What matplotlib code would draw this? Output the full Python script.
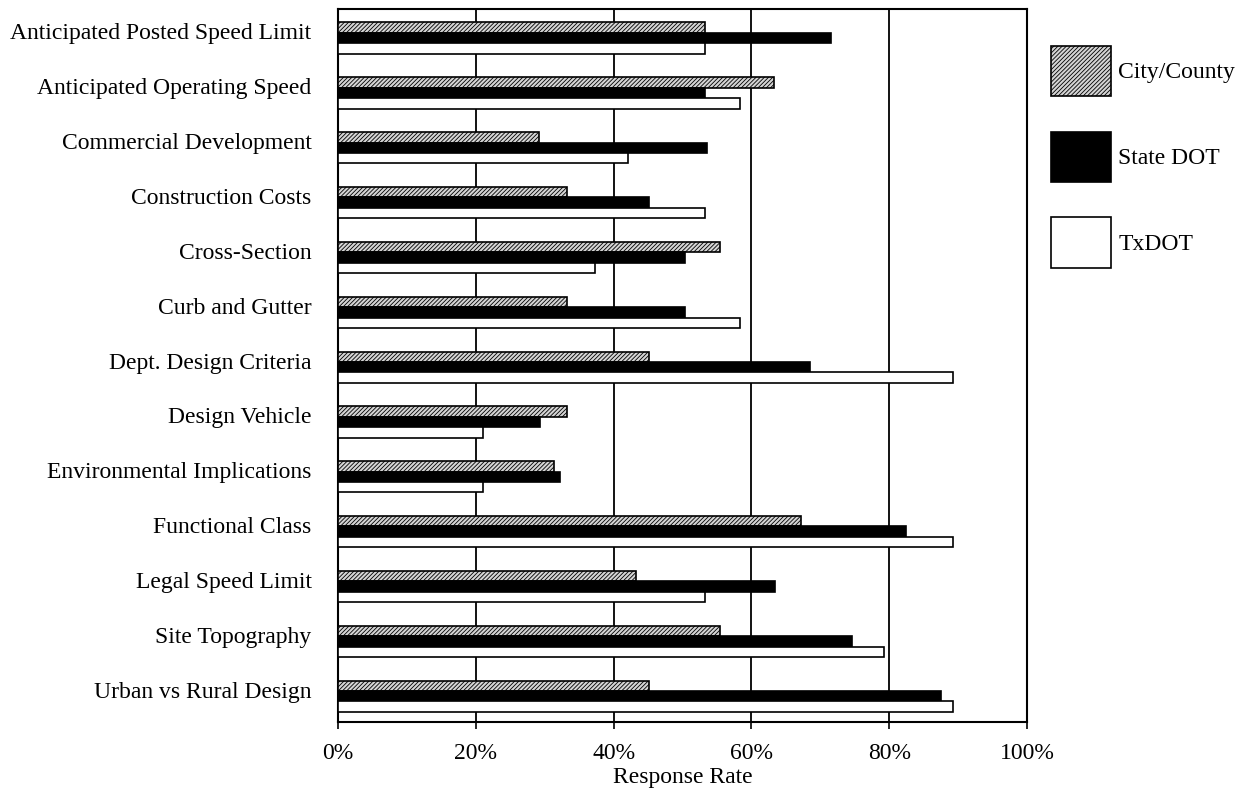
import numpy as np
import matplotlib
matplotlib.use("Agg")
import matplotlib.pyplot as plt
import matplotlib.transforms as mtransforms
from matplotlib.ticker import PercentFormatter

# data (response rate, %)
categories = ["Anticipated Posted Speed Limit", "Anticipated Operating Speed",
              "Commercial Development", "Construction Costs", "Cross-Section",
              "Curb and Gutter", "Dept. Design Criteria", "Design Vehicle",
              "Environmental Implications", "Functional Class",
              "Legal Speed Limit", "Site Topography", "Urban vs Rural Design"]
city_county = [53.3, 63.3, 29.2, 33.3, 55.5, 33.3, 45.2, 33.3, 31.3, 67.2, 43.3, 55.4, 45.2]
state_dot = [71.5, 53.3, 53.5, 45.2, 50.3, 50.3, 68.5, 29.3, 32.2, 82.4, 63.4, 74.6, 87.5]
txdot = [53.3, 58.3, 42.1, 53.3, 37.3, 58.3, 89.2, 21.1, 21.1, 89.3, 53.3, 79.3, 89.3]
series_names = ["City/County", "State DOT", "TxDOT"]

plt.rcParams['font.family'] = ['Liberation Serif', 'DejaVu Serif']
plt.rcParams['hatch.linewidth'] = 0.6

fig = plt.figure(figsize=(12.42, 7.94), dpi=100)
ax = fig.add_axes([338/1242, 1 - 722/794, (1027 - 338)/1242, (722 - 9)/794])

y = np.arange(len(categories))
h = 0.19
off = 0.03
ax.barh(y - h + off, city_county, height=h, color='#d4d4d4', edgecolor='black',
        hatch='////////', linewidth=1.2, label=series_names[0], zorder=3)
ax.barh(y + off, state_dot, height=h, color='black', edgecolor='black',
        linewidth=1.2, label=series_names[1], zorder=3)
ax.barh(y + h + off, txdot, height=h, color='white', edgecolor='black',
        linewidth=1.2, label=series_names[2], zorder=3)

ax.set_ylim(len(categories) - 0.5, -0.5)
ax.set_xlim(0, 100)
ax.set_yticks(y)
ax.set_yticklabels(categories, fontsize=17)
ax.tick_params(axis='y', length=0, pad=19)
shift = mtransforms.ScaledTranslation(0, 5/100, fig.dpi_scale_trans)
for lbl in ax.get_yticklabels():
    lbl.set_transform(lbl.get_transform() + shift)

ax.set_xticks(np.arange(0, 101, 20))
ax.xaxis.set_major_formatter(PercentFormatter(decimals=0))
ax.tick_params(axis='x', labelsize=17, length=5, width=1.2, direction='out', pad=10)
ax.set_xlabel("Response Rate", fontsize=17, labelpad=2)

ax.grid(axis='x', color='black', linewidth=1.3, zorder=0)
ax.set_axisbelow(True)
for s in ax.spines.values():
    s.set_linewidth(1.5)

fig.legend(loc='upper left', bbox_to_anchor=(1051/1242, 1 - 46/794),
           frameon=False, fontsize=17, handlelength=2.55, handleheight=2.9,
           handletextpad=0.3, labelspacing=1.5, borderpad=0, borderaxespad=0)

fig.savefig("out.png", dpi=100)
